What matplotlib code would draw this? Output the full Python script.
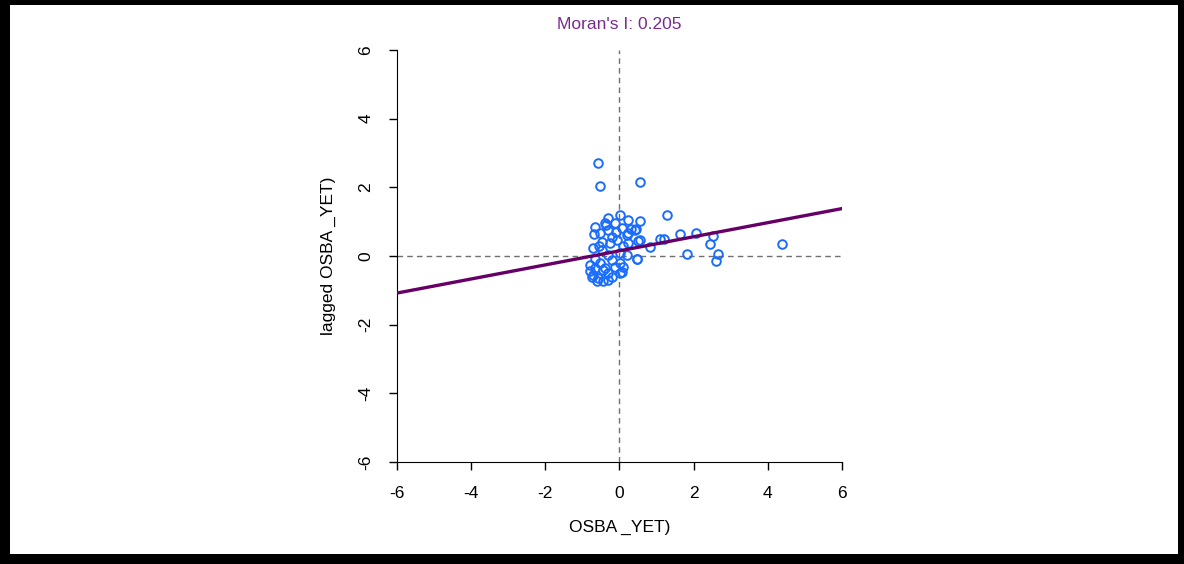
import matplotlib.pyplot as plt
from matplotlib.patches import Rectangle

plt.rcParams['font.family'] = ['Liberation Sans', 'DejaVu Sans']
plt.rcParams['axes.unicode_minus'] = False

# standardized variable and its spatial lag
x_vals = [-0.58, -0.53, 0.55, 1.27, 4.39, 1.63, 2.07, 2.43, 2.52, 2.65, 2.61, 1.83,
          0.55, 0.44, 1.09, 0.81, 0.49, 0.22, 0.09, 0.47, 1.20,
          -0.66, -0.53, -0.30, -0.21, 0.06, 0.19, 0.42, -0.26, -0.08, 0.24,
          -0.71, -0.48, -0.30, 0.01, 0.19, 0.46, -0.80, -0.66, -0.53, -0.44,
          -0.30, -0.12, 0.01, 0.06, -0.71, -0.57, -0.30, 0.02, -0.21, -0.48,
          0.24, 0.55, -0.30, 0.01, -0.39, -0.12,
          -0.75, -0.60, -0.45, -0.80, -0.65, -0.40, -0.20, -0.70, -0.35, -0.10,
          0.10, 0.30, -0.55]
y_vals = [2.71, 2.04, 2.16, 1.19, 0.35, 0.64, 0.67, 0.35, 0.58, 0.06, -0.15, 0.06,
          1.02, 0.79, 0.50, 0.26, 0.44, 0.67, -0.32, -0.09, 0.50,
          0.85, 0.66, 0.76, 0.56, 0.81, 0.61, 0.76, 0.37, 0.47, 0.37,
          0.22, 0.17, 0.03, 0.08, 0.03, -0.10, -0.26, -0.36, -0.21, -0.41,
          -0.50, -0.31, -0.21, -0.46, -0.55, -0.65, -0.70, -0.50, -0.12, 0.42,
          1.05, 0.47, 1.10, 1.19, 0.95, 0.95,
          -0.60, -0.72, -0.72, -0.45, -0.10, -0.35, -0.60, 0.65, 0.90, 0.70,
          0.30, 0.80, 0.30]

moran_i = 0.205
intercept = 0.15
line_x = [-6, 6]

fig = plt.figure(figsize=(11.84, 5.64), dpi=100)
ax = fig.add_axes([0.3353, 0.1809, 0.3758, 0.7305])

ax.axvline(0, color='#707070', ls=(0, (4, 3)), lw=1)
ax.axhline(0, color='#707070', ls=(0, (4, 3)), lw=1)
ax.plot(x_vals, y_vals, 'o', ms=6.2, mfc='none', mec='#1a6cff', mew=1.4, zorder=3)
ax.plot(line_x, [intercept + moran_i * v for v in line_x], color='#660066', lw=2.4, zorder=4)

ax.set_xlim(-6, 6)
ax.set_ylim(-6, 6)
ax.set_xticks([-6, -4, -2, 0, 2, 4, 6])
ax.set_yticks([-6, -4, -2, 0, 2, 4, 6])
for s in ['top', 'right']:
    ax.spines[s].set_visible(False)
ax.tick_params(direction='out', length=6, width=1, labelsize=12.5, pad=11)
for lbl in ax.get_yticklabels():
    lbl.set_rotation(90)
    lbl.set_va('center')
ax.set_xlabel('OSBA _YET)', fontsize=12.5, labelpad=14)
ax.set_ylabel('lagged OSBA _YET)', fontsize=12.5, labelpad=16)
ax.set_title("Moran's I: 0.205", color='#7a2a90', fontsize=12.5, pad=15)

# thick black frame round the picture
for r in [(0, 0, 10 / 1184, 1), (0, 1 - 5 / 564, 1, 5 / 564),
          (1 - 6 / 1184, 0, 6 / 1184, 1), (0, 0, 1, 10 / 564)]:
    fig.add_artist(Rectangle((r[0], r[1]), r[2], r[3], transform=fig.transFigure,
                             color='black', lw=0))

plt.savefig('out.png', dpi=100)
